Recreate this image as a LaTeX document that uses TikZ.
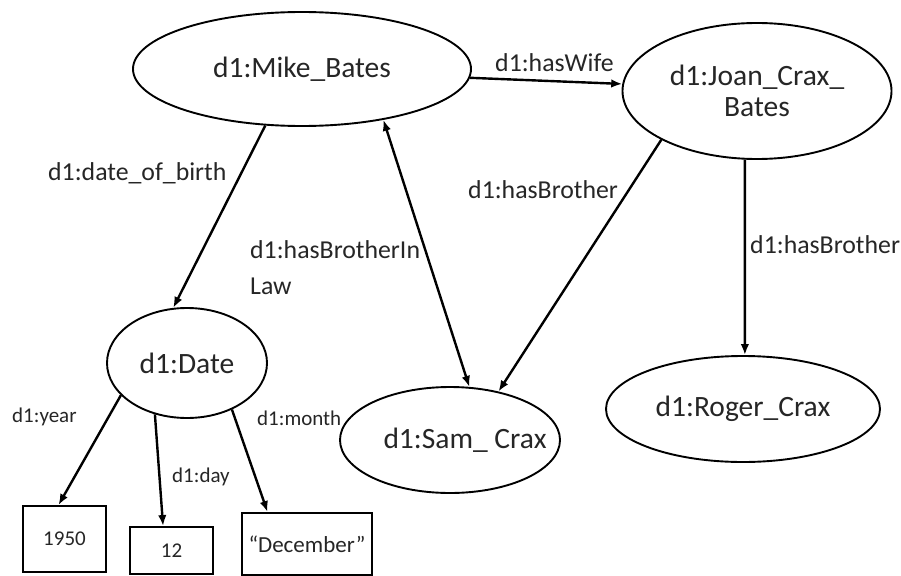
\documentclass[tikz,border=0pt]{standalone}
\usepackage{fontspec}
\setmainfont{Carlito}
\usetikzlibrary{arrows.meta,shapes.geometric}
\definecolor{ink}{HTML}{262626}
\begin{document}
\begin{tikzpicture}[x=1pt,y=-1pt,
  relhead/.tip={Latex[length=11pt,width=8.5pt]},
  ent/.style={ellipse,draw,line width=1.9pt,inner sep=0pt,align=center,
    font=\fontsize{29.5}{31}\selectfont,text=ink},
  lit/.style={rectangle,draw,line width=1.9pt,inner sep=0pt,
    font=\fontsize{21}{24}\selectfont,text=ink},
  rel/.style={draw,line width=2.4pt,-relhead},
  birel/.style={draw,line width=2.4pt,relhead-relhead},
  lbl/.style={inner sep=0pt,anchor=base west,font=\fontsize{25.8}{36}\selectfont,text=ink},
  slbl/.style={inner sep=0pt,anchor=base west,font=\fontsize{21}{24}\selectfont,text=ink}]

\useasboundingbox (0,0) rectangle (901,575);
\fill[white] (0,0) rectangle (901,575);

% resources
\node[ent,minimum width=338pt,minimum height=114pt] (mike)  at (302,69)  {d1:Mike\_Bates};
\node[ent,minimum width=269pt,minimum height=136pt] (joan)  at (757,91)  {d1:Joan\_Crax\_\\Bates};
\node[ent,minimum width=160pt,minimum height=110pt] (date)  at (187,363) {d1:Date};
% label sits a little right of the ellipse centre
\node[ent,minimum width=220pt,minimum height=106pt] (sam)   at (450,440) {\makebox[0pt]{\hspace*{30pt}d1:Sam\_ Crax}};
\node[ent,minimum width=274pt,minimum height=106pt] (roger) at (743,409) {d1:Roger\_Crax};

% literals
\node[lit,minimum width=83pt,minimum height=66pt]  (y1950) at (64.5,539)  {1950};
\node[lit,minimum width=83pt,minimum height=47pt]  (d12)   at (171.5,550.5) {12};
\node[lit,minimum width=130pt,minimum height=62pt,font=\fontsize{23}{26}\selectfont] (dec) at (307,544) {“December”};

% properties
\draw[rel]   (mike.237.3) -- (date.104);
\draw[rel]   (mike.-3.1)  -- (joan.177.9);
\draw[birel] (mike.328.4) -- (sam.70.3);
\draw[rel]   (joan.207.8) -- (sam.45.5);
\draw[rel]   (joan.260)   -- (roger.88);
\draw[rel]   (date.206.2) -- (y1950.100);
\draw[rel]   (date.238.2) -- (d12.109.9);
\draw[rel]   (date.314.4) -- (dec.141.5);

% property labels
\node[lbl] (lDob)  at (48,180)  {d1:date\_of\_birth};
\node[lbl] (lWife) at (495,72)  {d1:hasWife};
\node[lbl,align=left,anchor=north west] (lInLaw) at (250,240) {d1:hasBrotherIn\\Law};
\node[lbl] (lBro1) at (468,198) {d1:hasBrother};
\node[lbl] (lBro2) at (750,253) {d1:hasBrother};
\node[slbl] (lYear)  at (12,422)  {d1:year};
\node[slbl] (lDay)   at (172,482) {d1:day};
\node[slbl] (lMonth) at (257,425) {d1:month};
\end{tikzpicture}
\end{document}
